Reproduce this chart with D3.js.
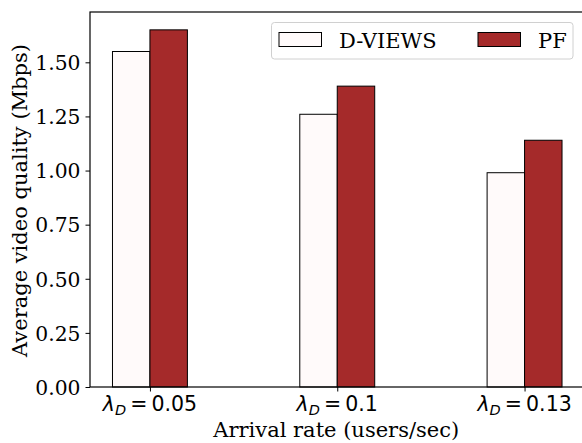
<!DOCTYPE html>
<html><head><meta charset="utf-8">
<script src="https://cdn.jsdelivr.net/npm/d3@7"></script>
<style>body{margin:0;background:#fff}svg{display:block}</style>
</head><body>
<svg id="c" width="582" height="443"></svg>
<script>
const categories = ["0.05", "0.1", "0.13"];
const seriesNames = ["D-VIEWS", "PF"];
const dviews = [1.55, 1.26, 0.99];
const pf = [1.65, 1.39, 1.14];
const yTicks = [0, 0.25, 0.5, 0.75, 1.0, 1.25, 1.5];
const colors = ["#fffafa", "#a52a2a"];

const svg = d3.select("#c");
const L = 90, T = 12, B = 387, R = 584.5;
const x = d3.scaleLinear().domain([-0.32, 2.32]).range([L, R]);
const y = d3.scaleLinear().domain([0, 1.7325]).range([B, T]);
const bw = 0.2;
const serif = "DejaVu Serif";
const sans = "DejaVu Sans";

const series = [dviews, pf];
series.forEach((vals, s) => {
  svg.append("g").selectAll("rect").data(vals).join("rect")
    .attr("x", (d, i) => x(i + (s === 0 ? -bw : 0)))
    .attr("width", x(bw) - x(0))
    .attr("y", d => y(d))
    .attr("height", d => y(0) - y(d))
    .attr("fill", colors[s])
    .attr("stroke", "#000")
    .attr("stroke-width", 1);
});

// axes
const yAxis = d3.axisLeft(y).tickValues(yTicks).tickFormat(d3.format(".2f")).tickSize(4.5).tickPadding(5);
const gy = svg.append("g").attr("transform", `translate(${L},0)`).call(yAxis);
gy.select(".domain").remove();
gy.selectAll("text").attr("font-family", serif).attr("font-size", 20.3).attr("fill", "#000").attr("dy", "0.36em");
gy.selectAll("line").attr("stroke", "#000").attr("stroke-width", 1);

const xAxis = d3.axisBottom(x).tickValues([0, 1, 2]).tickFormat("").tickSize(4.5);
const gx = svg.append("g").attr("transform", `translate(0,${B})`).call(xAxis);
gx.select(".domain").remove();
gx.selectAll("line").attr("stroke", "#000").attr("stroke-width", 1);

// x tick labels with math text
categories.forEach((c, i) => {
  const t = svg.append("text").attr("x", x(i)).attr("y", 411)
    .attr("text-anchor", "middle").attr("font-family", sans).attr("font-size", 20.5).attr("fill", "#000");
  t.append("tspan").attr("font-style", "italic").text("λ");
  t.append("tspan").attr("font-style", "italic").attr("font-size", 14.5).attr("dy", 4).text("D");
  t.append("tspan").attr("dy", -4).text("\u2009=\u2009" + c);
});

// spines
svg.append("rect").attr("x", L).attr("y", T).attr("width", R - L).attr("height", B - T)
  .attr("fill", "none").attr("stroke", "#000").attr("stroke-width", 1.2);

// axis labels
svg.append("text").attr("x", (L + R) / 2 - 1).attr("y", 437).attr("text-anchor", "middle")
  .attr("font-family", serif).attr("font-size", 21).attr("fill", "#000").text("Arrival rate (users/sec)");
svg.append("text").attr("transform", `translate(27,${(T + B) / 2 + 1}) rotate(-90)`).attr("text-anchor", "middle")
  .attr("font-family", serif).attr("font-size", 21).attr("fill", "#000").text("Average video quality (Mbps)");

// legend
const lg = svg.append("g");
lg.append("rect").attr("x", 271.5).attr("y", 22.5).attr("width", 301.5).attr("height", 36.5).attr("rx", 3)
  .attr("fill", "#fff").attr("fill-opacity", 0.8).attr("stroke", "#d0d0d0").attr("stroke-width", 1);
const lx = [279, 478];
seriesNames.forEach((n, i) => {
  lg.append("rect").attr("x", lx[i]).attr("y", 32.5).attr("width", 42.5).attr("height", 14)
    .attr("fill", colors[i]).attr("stroke", "#000").attr("stroke-width", 1);
  lg.append("text").attr("x", lx[i] + 60).attr("y", 47.5).attr("font-family", serif).attr("font-size", 21)
    .attr("fill", "#000").text(n);
});
</script>
</body></html>
